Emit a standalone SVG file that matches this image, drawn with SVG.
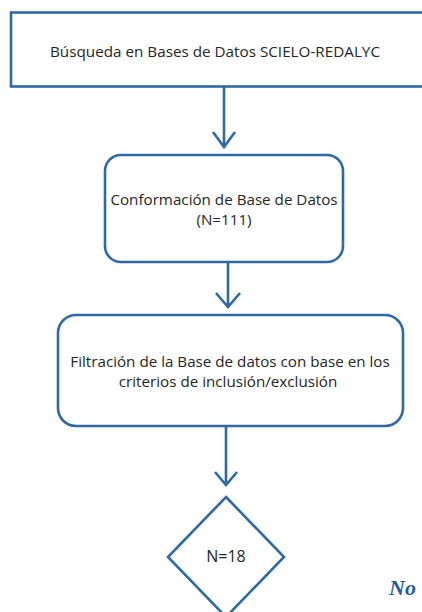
<svg xmlns="http://www.w3.org/2000/svg" width="422" height="612" viewBox="0 0 422 612">
<style>
.box{fill:#fff;stroke:#2f69a6;stroke-width:2.6}
.ln{fill:none;stroke:#2f69a6;stroke-width:2.6}
.t{font-family:"Open Sans","DejaVu Sans",sans-serif;font-size:15.2px;fill:#262626}
</style>
<rect width="422" height="612" fill="#fff"/>
<g id="n1">
<rect class="box" x="11" y="12.5" width="420" height="74"/>
<text class="t" x="50" y="57" textLength="330" lengthAdjust="spacingAndGlyphs">Búsqueda en Bases de Datos SCIELO-REDALYC</text>
</g>
<g id="n2">
<rect class="box" x="105" y="155" width="238" height="107" rx="16" ry="16"/>
<text class="t" x="224" y="205" text-anchor="middle">Conformación de Base de Datos</text>
<text class="t" x="224" y="225" text-anchor="middle">(N=111)</text>
</g>
<g id="n3">
<rect class="box" x="58" y="315" width="345" height="111" rx="18" ry="18"/>
<text class="t" x="230" y="367" text-anchor="middle">Filtración de la Base de datos con base en los</text>
<text class="t" x="228" y="387" text-anchor="middle">criterios de inclusión/exclusión</text>
</g>
<g id="n4">
<polygon class="box" points="226,497 284,557 226,617 168,557"/>
<text class="t" x="226" y="562" text-anchor="middle" style="font-size:16px">N=18</text>
</g>
<g id="connectors">
<path class="ln" d="M224,87 V147 M213,132 L224,147 L235,132"/>
<path class="ln" d="M228,262 V307 M216,293 L228,307 L240,293"/>
<path class="ln" d="M226,426 V485 M215,472 L226,485 L237,472"/>
</g>
<text x="389" y="595" font-family="'Liberation Serif',serif" font-weight="bold" font-style="italic" font-size="22" fill="#1f5c9c">No</text>
</svg>
